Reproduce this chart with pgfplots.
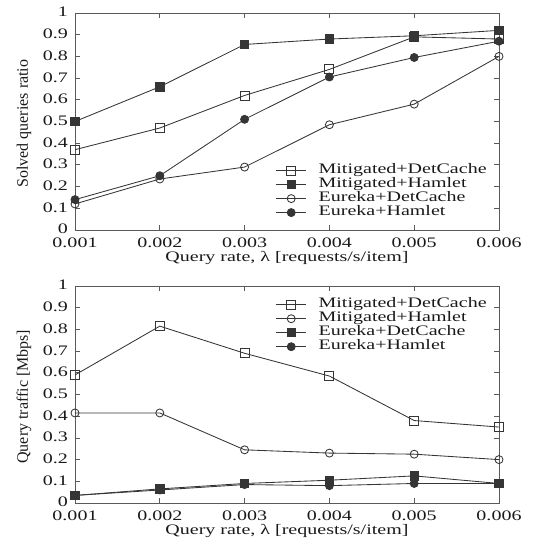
\documentclass[border=0pt]{standalone}
\usepackage{fontspec}
\setmainfont{Liberation Serif}[FakeStretch=1.38]
\newfontfamily\ylabfont{Liberation Serif}
\usepackage{pgfplots}
\pgfplotsset{compat=1.18}
\definecolor{ln}{HTML}{353535}
\definecolor{fr}{HTML}{5A5A5A}

\pgfplotsset{
  gp/.style={
    width=424pt, height=217pt, scale only axis,
    xmin=0.001, xmax=0.006, ymin=0, ymax=1,
    scaled x ticks=false,
    xtick={0.001,0.002,0.003,0.004,0.005,0.006},
    xticklabels={0.001,0.002,0.003,0.004,0.005,0.006},
    ytick={0,0.1,0.2,0.3,0.4,0.5,0.6,0.7,0.8,0.9,1},
    yticklabels={0,0.1,0.2,0.3,0.4,0.5,0.6,0.7,0.8,0.9,1},
    tick align=inside, major tick length=5pt,
    axis line style={fr, line width=0.9pt},
    tick style={fr, line width=0.8pt},
    ticklabel style={font=\fontsize{14.5}{15}\selectfont, text=black!90, inner sep=0pt},
    /pgf/number format/assume math mode=true,
    xticklabel style={yshift=-7.5pt},
    yticklabel style={xshift=-6.8pt, yshift=0.8pt},
    label style={font=\fontsize{14.5}{15}\selectfont, text=black!90},
    xlabel={Query rate, λ [requests/s/item]},
    xlabel style={yshift=-0.5pt},
    ylabel style={font=\ylabfont\fontsize{16}{16}\selectfont,
      at={(axis description cs:-0.1203,0.49)}, anchor=center},
    clip=false,
    every axis plot/.append style={ln, line width=0.85pt},
    legend style={draw=none, fill=none, legend cell align=left,
      font=\fontsize{14.5}{15}\selectfont, text=black!90,
      row sep=0.5pt, column sep=11pt, nodes={inner sep=1pt, text height=9pt, text depth=2.5pt}},
    legend image code/.code={\draw[mark repeat=2,mark phase=2,#1] plot coordinates {(0pt,0pt) (15pt,0pt) (30pt,0pt)};},
  },
  osq/.style={mark=square, mark size=4.5pt, mark options={fill=white, solid}},
  fsq/.style={mark=square*, mark size=4.2pt, mark options={fill=ln, solid}},
  oci/.style={mark=o, mark size=4pt, mark options={fill=white, solid}},
  fci/.style={mark=*, mark size=4pt, mark options={fill=ln, solid}},
}

\begin{document}
\begin{tikzpicture}
\begin{axis}[gp, ylabel={Solved queries ratio},
  legend style={at={(0.466,0.315)}, anchor=north west}]
\addplot[ln, osq] coordinates {(0.001,0.37) (0.002,0.47) (0.003,0.62) (0.004,0.74) (0.005,0.89) (0.006,0.88)};
\addlegendentry{Mitigated+DetCache}
\addplot[ln, fsq] coordinates {(0.001,0.50) (0.002,0.66) (0.003,0.855) (0.004,0.88) (0.005,0.895) (0.006,0.92)};
\addlegendentry{Mitigated+Hamlet}
\addplot[ln, oci] coordinates {(0.001,0.12) (0.002,0.235) (0.003,0.29) (0.004,0.485) (0.005,0.58) (0.006,0.80)};
\addlegendentry{Eureka+DetCache}
\addplot[ln, fci] coordinates {(0.001,0.14) (0.002,0.25) (0.003,0.51) (0.004,0.705) (0.005,0.795) (0.006,0.87)};
\addlegendentry{Eureka+Hamlet}
\end{axis}

\begin{axis}[gp, at={(0,-273pt)}, ylabel={Query traffic [Mbps]},
  legend style={at={(0.466,0.955)}, anchor=north west}]
\addplot[ln, osq] coordinates {(0.001,0.59) (0.002,0.815) (0.003,0.69) (0.004,0.585) (0.005,0.38) (0.006,0.35)};
\addlegendentry{Mitigated+DetCache}
\addplot[ln, oci] coordinates {(0.001,0.415) (0.002,0.415) (0.003,0.245) (0.004,0.23) (0.005,0.225) (0.006,0.20)};
\addlegendentry{Mitigated+Hamlet}
\addplot[ln, fsq] coordinates {(0.001,0.035) (0.002,0.065) (0.003,0.09) (0.004,0.105) (0.005,0.125) (0.006,0.09)};
\addlegendentry{Eureka+DetCache}
\addplot[ln, fci] coordinates {(0.001,0.035) (0.002,0.06) (0.003,0.085) (0.004,0.08) (0.005,0.09) (0.006,0.09)};
\addlegendentry{Eureka+Hamlet}
\end{axis}
\pgfresetboundingbox
\path (-75pt,-315pt) rectangle (458pt,230pt);
\end{tikzpicture}
\end{document}
